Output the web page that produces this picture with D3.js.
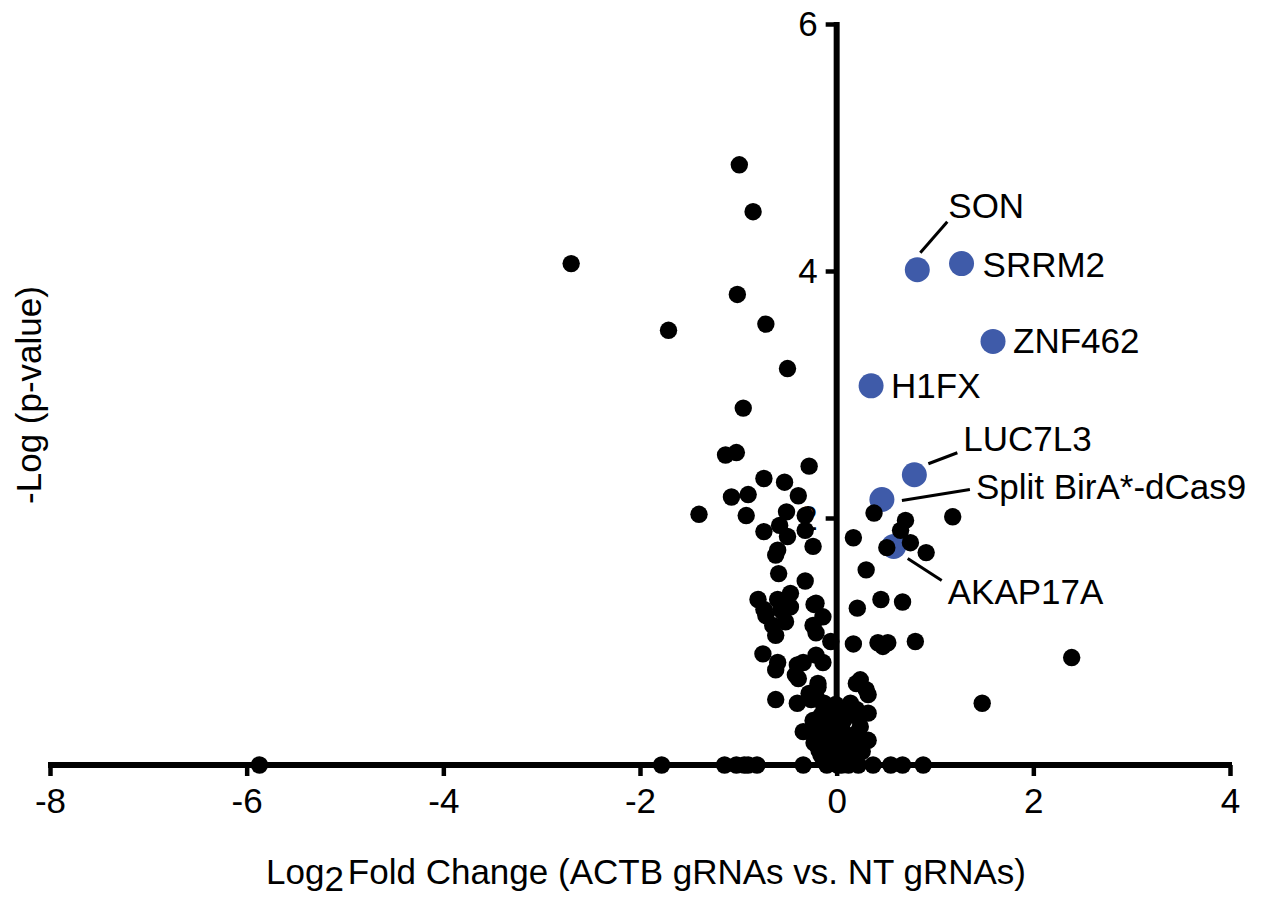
<!DOCTYPE html>
<html>
<head>
<meta charset="utf-8">
<script src="https://cdn.jsdelivr.net/npm/d3@7"></script>
<style>
  html, body { margin: 0; padding: 0; background: #fff; }
  svg { display: block; }
  text { font-family: "Liberation Sans", Arial, Helvetica, sans-serif; fill: #000; }
</style>
</head>
<body>
<svg id="chart" width="1269" height="899"></svg>
<script>
// ---------------- DATA ----------------
const xTicks = [-8, -6, -4, -2, 0, 2, 4];
const yTicks = [2, 4, 6];
const xTitlePre = "Log";
const xTitleSub = "2";
const xTitlePost = "Fold Change (ACTB gRNAs vs. NT gRNAs)";
const yTitle = "-Log (p-value)";

// highlighted hits
const hitGenes = ["SON", "SRRM2", "ZNF462", "H1FX", "LUC7L3", "Split BirA*-dCas9", "AKAP17A"];
const hitFC    = [0.82, 1.27, 1.59, 0.35, 0.79, 0.46, 0.58];
const hitLogP  = [4.01, 4.06, 3.43, 3.07, 2.35, 2.15, 1.77];

// all other proteins: log2 fold change
const otherFC = [
  -0.99, -0.85, -2.70, -1.01, -1.71, -0.72, -0.50, -0.95,
  -1.13, -1.02, -0.28, -0.74, -0.53, -1.07, -0.90, -0.39, -1.40, -0.92, -0.51, -0.32,
  -0.74, -0.58, -0.50, -0.32, -0.24, -0.60, -0.62, -0.59, -0.32, -0.80, -0.60, -0.47,
  -0.21, -0.74, -0.57, -0.47, -0.72, -0.55, -0.65, -0.52, -0.62, -0.24, -0.14, -0.21,
  -0.06, -0.23, -0.75, -0.60, -0.62, -0.40, -0.34, -0.21, -0.14, -0.42, -0.39, -0.19,
  -0.28, -0.62, -0.40, -0.26, -0.13, -0.34, -0.19, -0.23, -0.09, -0.08,
  -0.19, -0.21, -0.13, 0.24, 0.30, 0.14, 0.32, -0.06, 0.07, 0.24, 0.32, -0.13, 0.04,
  0.14, -0.03, 0.07, 0.00, 0.02, -0.06, 0.16, 0.10, -0.10, 0.20, 0.05, -0.16, 0.11,
  0.38, 0.17, 0.70, 0.65, 0.51, 0.75, 0.91, 0.30, 0.21, 0.45, 0.67, 0.17, 0.42, 0.47,
  0.52, 0.80, 0.20, 0.32, 0.21, 1.18, 2.39, 1.48,
  -5.87, -1.78, -1.14, -1.02, -0.94, -0.90, -0.81, -0.34, 0.01, 0.37, 0.55, 0.67, 0.88,
  -0.10, 0.05, 0.12, 0.22, -0.04, 0.09,
  -0.16, -0.08, 0.09, 0.19, -0.24, -0.11, 0.12, 0.22, -0.01, -0.18, 0.16, 0.26
];
// all other proteins: -log10 p-value
const otherLogP = [
  4.86, 4.48, 4.06, 3.81, 3.52, 3.57, 3.21, 2.89,
  2.51, 2.53, 2.42, 2.32, 2.29, 2.17, 2.19, 2.18, 2.03, 2.02, 2.05, 2.02,
  1.89, 1.94, 1.85, 1.90, 1.77, 1.74, 1.70, 1.55, 1.49, 1.34, 1.34, 1.39,
  1.31, 1.26, 1.26, 1.28, 1.21, 1.24, 1.13, 1.16, 1.05, 1.13, 1.20, 1.07,
  1.00, 1.30, 0.90, 0.83, 0.77, 0.81, 0.83, 0.89, 0.83, 0.73, 0.70, 0.63,
  0.58, 0.53, 0.50, 0.53, 0.50, 0.27, 0.26, 0.18, 0.31, 0.15,
  0.66, 0.55, 0.47, 0.69, 0.61, 0.50, 0.42, 0.34, 0.36, 0.31, 0.20, 0.15, 0.23,
  0.12, 0.10, 0.06, 0.16, 0.04, 0.24, 0.24, 0.40, 0.38, 0.45, 0.30, 0.08, 0.10,
  2.04, 1.84, 1.98, 1.90, 1.76, 1.80, 1.72, 1.58, 1.27, 1.34, 1.32, 0.98, 0.99, 0.96,
  0.99, 1.00, 0.66, 0.57, 0.26, 2.01, 0.87, 0.50,
  0, 0, 0, 0, 0, 0, 0, 0, 0, 0, 0, 0, 0,
  0, 0, 0, 0, 0.03, 0.02,
  0.40, 0.43, 0.46, 0.40, 0.36, 0.06, 0.19, 0.16, 0.49, 0.12, 0.04, 0.11
];

// ---------------- CHART ----------------
const svg = d3.select("#chart");
const x = d3.scaleLinear().domain([-8, 4]).range([50, 1230]);
const y = d3.scaleLinear().domain([0, 6]).range([765, 24]);

const FONT = 35;
const AXW = 6;

// x axis
const gx = svg.append("g").attr("transform", `translate(0,${y(0)})`)
  .call(d3.axisBottom(x).tickValues(xTicks).tickSize(11).tickSizeOuter(0).tickPadding(12)
        .tickFormat(d => String(d)));
gx.select(".domain").attr("stroke", "#000").attr("stroke-width", AXW)
  .attr("d", `M${x(-8) - 2},0H${x(4) + 2}`);
gx.selectAll(".tick line").attr("stroke", "#000").attr("stroke-width", 4.5);
gx.selectAll(".tick text").attr("font-size", FONT).attr("fill", "#000")
  .style("font-family", '"Liberation Sans", Arial, sans-serif');

// y axis
const gy = svg.append("g").attr("transform", `translate(${x(0)},0)`)
  .call(d3.axisLeft(y).tickValues(yTicks).tickSize(11).tickSizeOuter(0).tickPadding(8)
        .tickFormat(d => String(d)));
gy.select(".domain").attr("stroke", "#000").attr("stroke-width", AXW)
  .attr("d", `M0,${y(6) - 2}V${y(0)}`);
gy.selectAll(".tick line").attr("stroke", "#000").attr("stroke-width", 4.5);
gy.selectAll(".tick text").attr("font-size", FONT).attr("fill", "#000")
  .style("font-family", '"Liberation Sans", Arial, sans-serif');

// axis titles
const xt = svg.append("text").attr("x", 646).attr("y", 884)
  .attr("text-anchor", "middle").attr("font-size", FONT);
xt.append("tspan").text(xTitlePre);
xt.append("tspan").attr("dy", 7).text(xTitleSub);
xt.append("tspan").attr("dy", -7).attr("dx", 4).text(xTitlePost);

svg.append("text")
  .attr("transform", `translate(41,${395}) rotate(-90)`)
  .attr("text-anchor", "middle").attr("font-size", FONT)
  .text(yTitle);

// highlighted hits (under the black points)
const hits = hitGenes.map((g, i) => ({ gene: g, fc: hitFC[i], lp: hitLogP[i] }));
svg.append("g").selectAll("circle").data(hits).join("circle")
  .attr("cx", d => x(d.fc)).attr("cy", d => y(d.lp)).attr("r", 12.5)
  .attr("fill", "#3F5BA9");

// other proteins
const others = otherFC.map((v, i) => ({ fc: v, lp: otherLogP[i] }));
svg.append("g").selectAll("circle").data(others).join("circle")
  .attr("cx", d => x(d.fc)).attr("cy", d => y(d.lp)).attr("r", 8.7)
  .attr("fill", "#000");

// annotation layout (pixel offsets from each hit)
const labelLayout = {
  "SON":               { dx: 31, dy: -52, line: [3, -17, 30, -48] },
  "SRRM2":             { dx: 21, dy: 13 },
  "ZNF462":            { dx: 20, dy: 12 },
  "H1FX":              { dx: 20, dy: 12 },
  "LUC7L3":            { dx: 49, dy: -24, line: [14, -11, 43, -22] },
  "Split BirA*-dCas9": { dx: 94, dy: 0,   line: [20, 1, 88, -10] },
  "AKAP17A":           { dx: 54, dy: 58,  line: [14, 12, 48, 34] }
};
const ann = svg.append("g");
hits.forEach(d => {
  const L = labelLayout[d.gene];
  const px = x(d.fc), py = y(d.lp);
  ann.append("text").attr("x", px + L.dx).attr("y", py + L.dy)
    .attr("font-size", FONT).text(d.gene);
  if (L.line) {
    ann.append("line")
      .attr("x1", px + L.line[0]).attr("y1", py + L.line[1])
      .attr("x2", px + L.line[2]).attr("y2", py + L.line[3])
      .attr("stroke", "#000").attr("stroke-width", 3);
  }
});
</script>
</body>
</html>
